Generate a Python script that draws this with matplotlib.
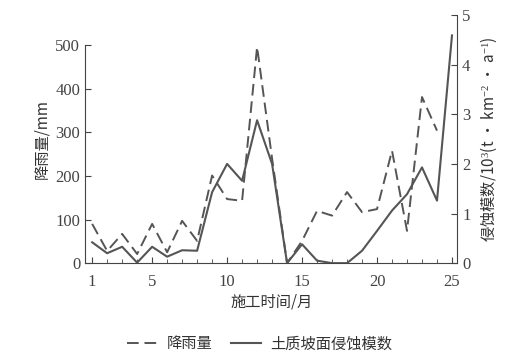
import numpy as np
import matplotlib.pyplot as plt

plt.rcParams['font.family'] = ['Liberation Serif', 'Noto Sans CJK SC']
plt.rcParams['mathtext.fontset'] = 'custom'
plt.rcParams['mathtext.rm'] = 'Liberation Serif'
plt.rcParams['mathtext.it'] = 'Liberation Serif:italic'

# data
month = list(range(1, 26))
rain = [90, 28, 67, 21, 90, 25, 97, 51, 201, 147, 143, 496, 240, 0,
        51, 120, 109, 163, 117, 124, 258, 74, 381, 304]
erosion = [0.42, 0.20, 0.33, 0.01, 0.33, 0.13, 0.26, 0.25, 1.43, 2.0,
           1.66, 2.88, 2.0, 0.0, 0.38, 0.05, 0.0, 0.0, 0.25, 0.65,
           1.06, 1.39, 1.93, 1.26, 4.59]

cjk = ['Noto Sans CJK SC', 'DejaVu Sans']
col = '#555555'

fig = plt.figure(figsize=(5.19, 3.59), dpi=100)
ax = fig.add_axes([0.164, 0.267, 0.717, 0.691])
ax2 = ax.twinx()

l1, = ax.plot(month[:len(rain)], rain, ls=(0, (6, 3)), color=col, lw=1.4)
l2, = ax2.plot(month, erosion, ls='-', color=col, lw=1.5)

ax.set_xlim(0.53, 25.35)
ax.set_ylim(0, 569)
ax2.set_ylim(0, 5)

for s in ('top', 'right'):
    ax.spines[s].set_visible(False)
for s in ('top', 'left', 'bottom'):
    ax2.spines[s].set_visible(False)
ax.spines['left'].set_bounds(0, 500)
for a in (ax, ax2):
    for s in a.spines.values():
        s.set_color('#444444')

ax.set_xticks([1, 5, 10, 15, 20, 25])
ax.set_xticks(month, minor=True)
ax.set_yticks([0, 100, 200, 300, 400, 500])
ax2.set_yticks([0, 1, 2, 3, 4, 5])
ax.tick_params(axis='both', which='both', direction='in', labelsize=12,
               colors='#444444', length=4)
ax.tick_params(axis='x', which='minor', length=3)
ax.tick_params(axis='x', pad=8)
ax2.tick_params(axis='y', direction='in', labelsize=12, colors='#444444', length=4)

ax.set_ylabel('降雨量/mm', family=cjk, fontsize=11, color='#333333', labelpad=4)
ax2.set_ylabel('侵蚀模数/10$^3$(t · km$^{-2}$ · a$^{-1}$)', family=cjk,
               fontsize=11, color='#333333', labelpad=6)
ax.set_xlabel('施工时间/月', family=cjk, fontsize=11, color='#333333', labelpad=2)

fig.legend([l1, l2], ['降雨量', '土质坡面侵蚀模数'], loc='lower center',
           bbox_to_anchor=(0.5, -0.02), ncol=2, frameon=False,
           prop={'family': cjk, 'size': 11}, handlelength=2.0, columnspacing=1.2,
           handletextpad=0.6, labelcolor='#333333')

fig.savefig('out.png', dpi=100)
